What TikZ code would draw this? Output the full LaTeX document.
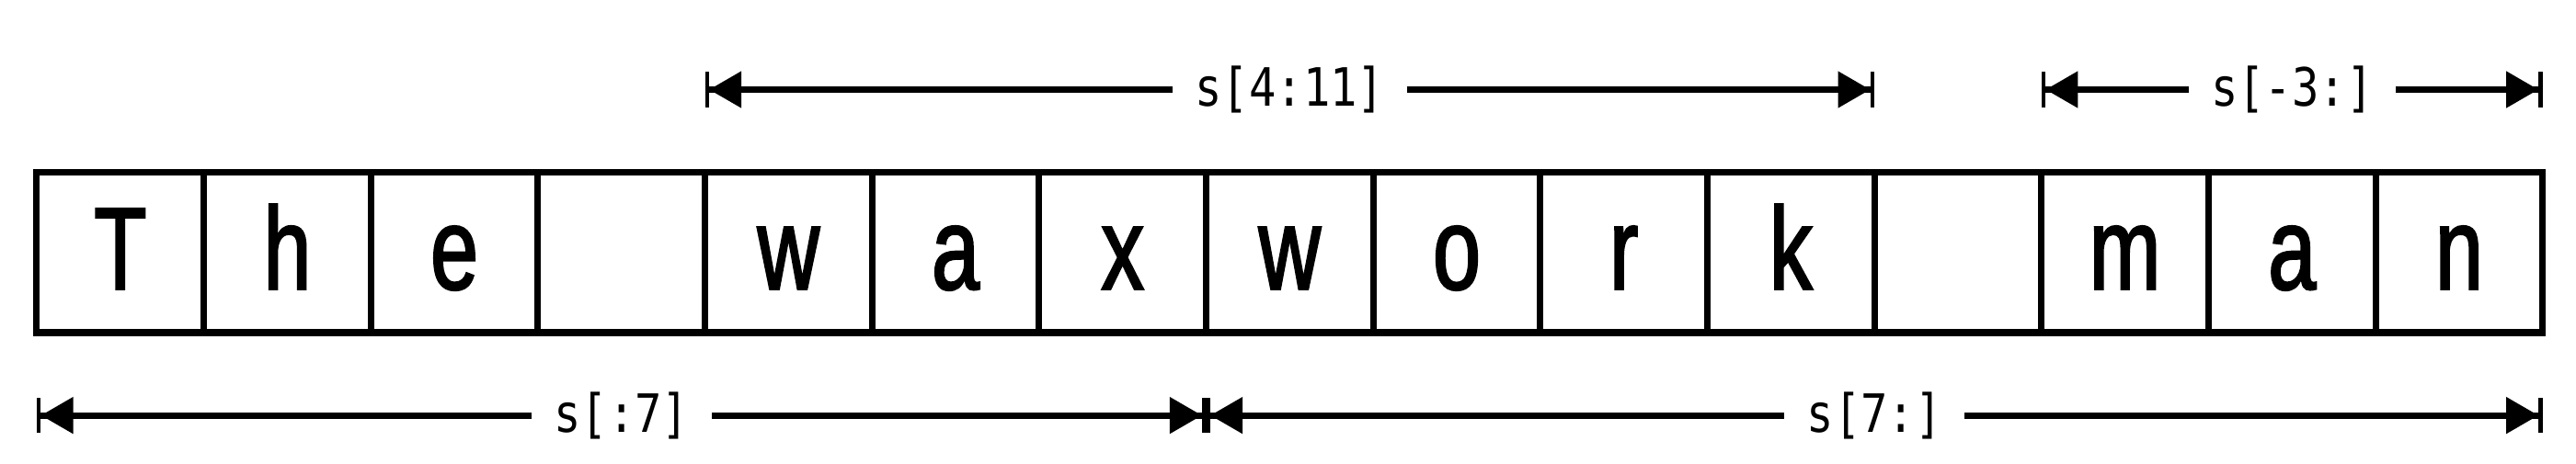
\documentclass[tikz,border=0pt]{standalone}
\usepackage{fontspec}
\setmainfont{Liberation Sans}
\newfontfamily\cellfamily{Liberation Sans}[FakeStretch=0.73,FakeBold=1.8]
\newfontfamily\lblfamily{DejaVu Sans Mono}[FakeStretch=0.85]
\usetikzlibrary{arrows.meta,chains,positioning}

\begin{document}
\begin{tikzpicture}[cell/.style={draw,line width=1.1pt,minimum width=1cm,minimum height=9.6mm,
      inner sep=0pt,outer sep=0pt,text height=4.4mm,text depth=0pt,
      font=\cellfamily\fontsize{20}{24}\selectfont},
    dim/.style={line width=1.1pt,
      {Bar[width=6pt,line width=0.7pt]Triangle[length=5.5pt,width=6pt]}-{Triangle[length=5.5pt,width=6pt]Bar[width=6pt,line width=0.7pt]}},
    lbl/.style={fill=white,inner xsep=3.8pt,inner ysep=1pt,font=\lblfamily\fontsize{9}{11}\selectfont}]
\useasboundingbox (-0.22,-0.787) rectangle (15.20,1.993);
\path[start chain=word going right,node distance=0pt,nodes={cell,on chain}]
    node[anchor=south west] at (0,0) {T}
    node{h}
    node{e}
    node{}
    node{w}
    node{a}
    node{x}
    node{w}
    node{o}
    node{r}
    node{k}
    node{}
    node{m}
    node{a}
    node{n};

% end points of the slices
\coordinate[above=4.96mm of word-5.north west] (t4);
\coordinate[above=4.96mm of word-12.north west] (t11);
\coordinate[above=4.96mm of word-13.north west] (t12);
\coordinate[above=4.96mm of word-15.north east] (t15);
\coordinate[below=4.96mm of word-1.south west] (b0);
\coordinate[below=4.96mm of word-8.south west] (b7);
\coordinate[below=4.96mm of word-15.south east] (b15);

\draw[dim] (t4) -- node[lbl] (s411) {s[4:11]\hspace{4.7pt}} (t11);
\draw[dim] (t12) -- node[lbl] (s3) {s[-3:]\hspace{4.7pt}} (t15);
\draw[dim] (b0) -- node[lbl] (s07) {s[:7]\hspace{4.7pt}} (b7);
\draw[dim] (b7) -- node[lbl] (s7) {s[7:]\hspace{4.7pt}} (b15);
\end{tikzpicture}
\end{document}
